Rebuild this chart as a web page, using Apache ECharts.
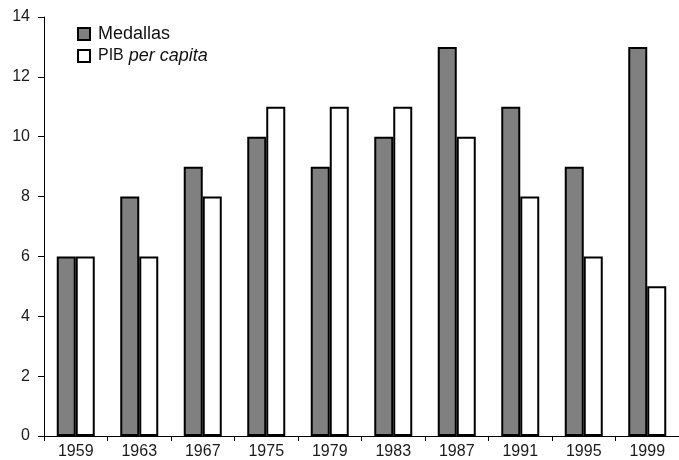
<!DOCTYPE html>
<html>
<head>
<meta charset="utf-8">
<script src="https://cdn.jsdelivr.net/npm/echarts@6/dist/echarts.min.js"></script>
<style>
html,body{margin:0;padding:0;background:#fff;}
#chart{width:679px;height:460px;}
</style>
</head>
<body>
<div id="chart"></div>
<script>
const years = ['1959','1963','1967','1975','1979','1983','1987','1991','1995','1999'];
const medallas = [6, 8, 9, 10, 9, 10, 13, 11, 9, 13];
const pibPerCapita = [6, 6, 8, 11, 11, 11, 10, 8, 6, 5];
const yTicks = { min: 0, max: 14, interval: 2 };

const FONT = '"Liberation Sans", Arial, sans-serif';
const chart = echarts.init(document.getElementById('chart'), null, { renderer: 'canvas' });
chart.setOption({
  animation: false,
  backgroundColor: '#ffffff',
  grid: { left: 44, right: -5, top: 17, bottom: 23, containLabel: false },
  legend: [
    {
      data: [{ name: 'Medallas', icon: 'rect', itemStyle: { color: '#808080', borderColor: '#000', borderWidth: 2 } }],
      left: 72, top: 20, itemWidth: 12, itemHeight: 12, selectedMode: false,
      textStyle: { fontFamily: FONT, fontSize: 18, color: '#111', padding: [0, 0, 0, 3] }
    },
    {
      data: [{ name: 'PIB per capita', icon: 'rect', itemStyle: { color: '#ffffff', borderColor: '#000', borderWidth: 2 } }],
      left: 72, top: 42, itemWidth: 12, itemHeight: 12, selectedMode: false,
      formatter: function () { return '{a|PIB}{b|per capita}'; },
      textStyle: {
        fontFamily: FONT, color: '#111', padding: [0, 0, 0, 3],
        rich: {
          a: { fontFamily: FONT, fontSize: 16, color: '#111' },
          b: { fontFamily: FONT, fontSize: 18, fontStyle: 'italic', color: '#111', padding: [0, 0, 0, 5] }
        }
      }
    }
  ],
  xAxis: {
    type: 'category',
    data: years,
    axisLine: { show: true, lineStyle: { color: '#000', width: 1 } },
    axisTick: { show: true, alignWithLabel: false, length: 5, lineStyle: { color: '#000' } },
    axisLabel: { fontFamily: FONT, fontSize: 16, color: '#1a1a1a', margin: 8 },
    splitLine: { show: false }
  },
  yAxis: {
    type: 'value',
    min: yTicks.min, max: yTicks.max, interval: yTicks.interval,
    axisLine: { show: true, lineStyle: { color: '#000', width: 1 } },
    axisTick: { show: true, length: 6, lineStyle: { color: '#000' } },
    axisLabel: { fontFamily: FONT, fontSize: 16, color: '#1a1a1a', margin: 14 },
    splitLine: { show: false }
  },
  series: [
    {
      name: 'Medallas', type: 'bar', data: medallas,
      barWidth: 19, barGap: '0%',
      itemStyle: { color: '#808080', borderColor: '#000', borderWidth: 2 }
    },
    {
      name: 'PIB per capita', type: 'bar', data: pibPerCapita,
      barWidth: 19,
      itemStyle: { color: '#ffffff', borderColor: '#000', borderWidth: 2 }
    }
  ]
});
</script>
</body>
</html>
